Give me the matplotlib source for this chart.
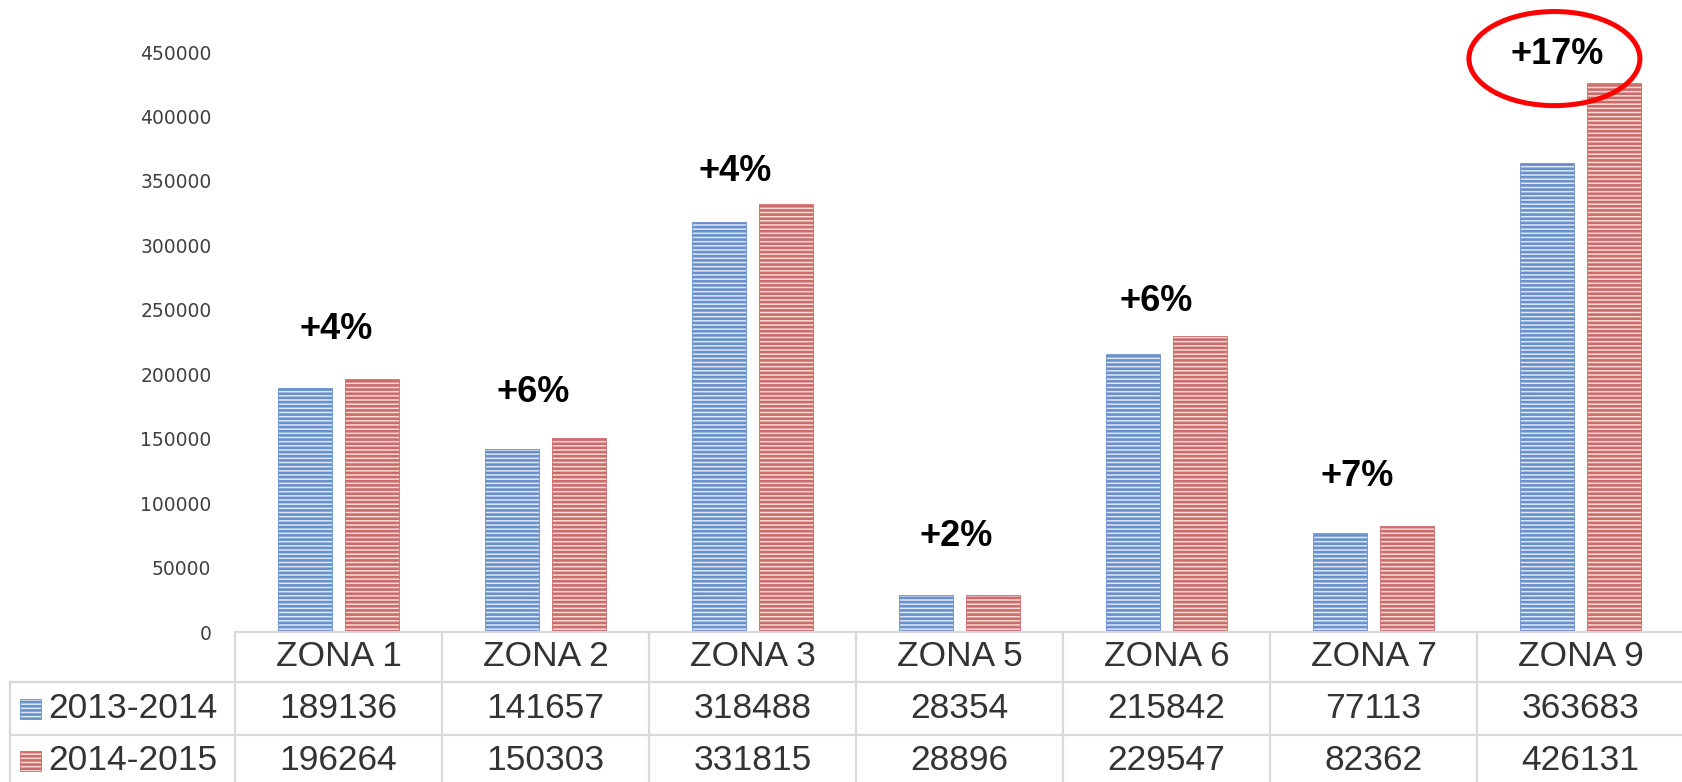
import matplotlib.pyplot as plt
import matplotlib.transforms as mtransforms
from matplotlib.patches import Ellipse, Rectangle
from matplotlib.lines import Line2D

# Data
zones = ["ZONA 1", "ZONA 2", "ZONA 3", "ZONA 5", "ZONA 6", "ZONA 7", "ZONA 9"]
series_names = ["2013-2014", "2014-2015"]
v_2013 = [189136, 141657, 318488, 28354, 215842, 77113, 363683]
v_2014 = [196264, 150303, 331815, 28896, 229547, 82362, 426131]
growth = ["+4%", "+6%", "+4%", "+2%", "+6%", "+7%", "+17%"]

# label placement (height in data units, x shift in category units)
label_y = [234500, 185600, 357100, 73800, 256200, 120300, 448000]
label_dx = [-0.01, -0.06, -0.085, -0.015, -0.05, -0.08, -0.115]

plt.rcParams["hatch.linewidth"] = 1.9

W, H = 1683, 782
fig = plt.figure(figsize=(W / 100, H / 100), dpi=100)
ax = fig.add_axes([235 / W, 150 / H, 1449 / W, 580 / H])

face = ["#dfe8f6", "#f5dcdb"]
stripe = ["#6890cb", "#cc6b68"]
x = list(range(len(zones)))
bw = 0.26
off = 0.16
for vals, sign, fc, sc in [(v_2013, -1, face[0], stripe[0]), (v_2014, 1, face[1], stripe[1])]:
    ax.bar([i + sign * off for i in x], vals, width=bw, color=fc,
           edgecolor=sc, linewidth=0.6, hatch="----")

for i, (g, ly, dx) in enumerate(zip(growth, label_y, label_dx)):
    ax.text(i + dx, ly, g, ha="center", va="center", fontsize=26,
            fontweight="bold", family="Liberation Sans", color="black")

# red ring around the biggest increase
ax.add_patch(Ellipse((6 - 0.126, 444900), 0.826, 73000, fill=False,
                     edgecolor="#ff0000", linewidth=3.6, clip_on=False))

ax.set_xlim(-0.5, 6.5)
ax.set_ylim(0, 450000)
ax.set_yticks(range(0, 450001, 50000))
ax.set_xticks([])
ax.tick_params(axis="y", length=0, pad=17, labelsize=13.5, labelcolor="#404040")
for s in ax.spines.values():
    s.set_visible(False)

# data table under the chart
grid = "#d9d9d9"
tc = "#333333"
bt = mtransforms.blended_transform_factory(ax.transData, fig.transFigure)
y_top, y_h, y_r1, y_r2 = 1 - 632 / H, 1 - 682 / H, 1 - 735 / H, 0.0
rows_c = [1 - 657 / H, 1 - 709 / H, 1 - 761 / H]

fig.add_artist(Line2D([-0.5, 6.5], [y_top, y_top], transform=bt, color=grid, lw=1.6))
for yy in (y_h, y_r1):
    fig.add_artist(Line2D([10 / W, 1], [yy, yy], transform=fig.transFigure, color=grid, lw=1.6))
fig.add_artist(Line2D([10 / W, 10 / W], [y_h, y_r2], transform=fig.transFigure, color=grid, lw=1.6))
for i in range(len(zones) + 1):
    fig.add_artist(Line2D([i - 0.5, i - 0.5], [y_top, y_r2], transform=bt, color=grid, lw=1.6))

tf = dict(fontsize=25.5, family="Liberation Sans", color=tc, ha="center", va="center")
for i, z in enumerate(zones):
    fig.text(i, rows_c[0], z, transform=bt, **tf)
    fig.text(i, rows_c[1], str(v_2013[i]), transform=bt, **tf)
    fig.text(i, rows_c[2], str(v_2014[i]), transform=bt, **tf)

for name, yc, fc, sc in zip(series_names, rows_c[1:], face, stripe):
    fig.add_artist(Rectangle((20 / W, yc - 10 / H), 21 / W, 20 / H, transform=fig.transFigure,
                             facecolor=fc, edgecolor=sc, linewidth=0.6, hatch="----"))
    fig.text(48 / W, yc, name, transform=fig.transFigure,
             **{**tf, "ha": "left"})

fig.savefig("out.png", dpi=100)
